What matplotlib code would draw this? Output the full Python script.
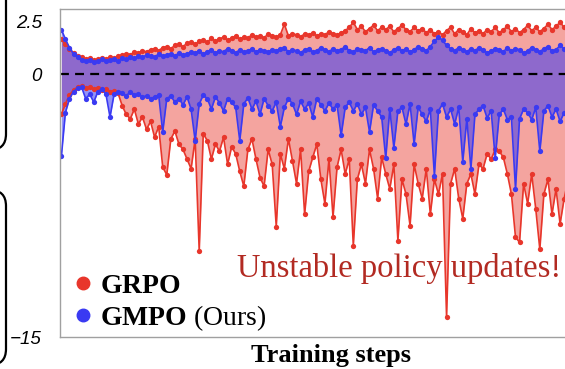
import numpy as np
import matplotlib
matplotlib.use("Agg")
import matplotlib.pyplot as plt
from matplotlib.lines import Line2D
from matplotlib.patches import FancyBboxPatch

# one sample every 3 training steps
step = 3
grpo_max = [1.65, 1.4, 1.2, 1.0, 0.85, 0.8, 0.7, 0.75, 0.65, 0.7, 0.75, 0.7, 0.8, 0.75, 0.85,
            0.9, 0.95, 0.9, 1.05, 1.0, 1.1, 1.05, 1.15, 1.2, 1.1, 1.25,
            1.3, 1.2, 1.35, 1.4, 1.3, 1.45, 1.5, 1.4, 1.55,
            1.6, 1.5, 1.7, 1.55, 1.65, 1.75, 1.6, 1.7, 1.8, 1.65, 1.75,
            1.7, 1.85, 1.75, 1.8, 1.7, 1.9, 1.8, 1.75, 1.85, 2.35, 1.8, 1.9, 1.85, 1.75, 1.9,
            1.85, 1.95, 1.8, 1.9, 1.85, 2.0, 1.9, 1.85, 1.95, 2.05, 2.2, 2.45,
            2.1, 2.25, 2.0, 2.15, 2.3, 2.05, 2.2, 2.1, 2.25, 2.0, 2.15, 2.3, 2.1, 2.0, 2.2, 2.05, 2.15, 1.95,
            2.1, 1.9, 2.0, 1.85, 2.05, 2.2, 1.9, 2.1, 2.0, 1.85, 2.15, 1.95, 2.05, 1.9, 2.1,
            2.0, 2.2, 1.95, 2.1, 2.25, 2.0, 2.15, 1.95, 2.1, 2.3, 2.05, 2.2, 2.0, 2.15, 2.35, 2.1,
            2.25, 2.45, 2.2, 2.3, 2.15, 2.35]
grpo_min = [-2.3, -1.7, -1.2, -0.9, -0.75, -0.7, -0.8, -0.75, -0.85, -0.8, -0.9, -0.85, -1.0, -0.95, -1.1,
            -1.8, -2.3, -2.55, -2.0, -2.85, -2.45, -3.15, -2.7, -3.6, -3.0, -5.3, -5.75, -3.7, -3.25, -4.0,
            -4.3, -4.85, -5.4, -3.7, -10.1,
            -3.4, -3.8, -4.85, -4.0, -4.4, -3.6, -5.15, -4.15, -4.55, -5.55, -6.4, -4.3, -3.7, -4.85, -5.9,
            -6.4, -4.3, -5.15, -8.7, -4.55,
            -5.4, -3.7, -4.95, -6.25, -4.3, -8.0, -5.55, -4.75, -4.0, -6.0, -7.4, -4.85, -8.15, -5.3, -4.3,
            -5.7, -4.85, -9.8, -6.0, -5.15,
            -6.25, -4.3, -5.4, -7.1, -4.75, -5.7, -6.55, -5.15, -9.5, -6.0, -6.85, -8.65, -5.15, -6.25, -7.1,
            -5.4, -8.0, -6.0, -6.85, -5.7,
            -13.85, -6.25, -5.4, -7.1, -8.25, -6.25, -5.7, -6.85, -5.15, -5.4, -4.55, -4.85, -4.3, -4.4, -4.75,
            -5.7, -6.85, -9.3, -9.6, -6.25,
            -7.4, -5.7, -7.7, -10.0, -6.85, -6.0, -8.0, -6.55, -8.55, -7.1, -6.0, -7.5, -6.5]
gmpo_max = [2.1, 1.65, 1.25, 0.95, 0.8, 0.65, 0.6, 0.65, 0.55, 0.6, 0.7, 0.6, 0.65, 0.7, 0.6,
            0.75, 0.7, 0.8, 0.75, 0.85, 0.8, 0.9, 0.85, 0.8, 0.95, 0.85, 0.9, 0.95, 0.85, 1.0, 0.9,
            0.95, 1.05, 1.0, 1.1, 0.95, 1.05, 1.15, 1.0, 1.1, 1.05, 1.2, 1.1, 1.0, 1.15, 1.05, 1.1, 1.2,
            1.05, 1.15, 1.1,
            1.05, 1.15, 1.1, 1.2, 1.25, 1.05, 1.15, 1.1, 1.0, 1.15, 1.2, 1.05, 1.1, 1.25, 1.15, 1.05, 1.2,
            1.1, 1.15, 1.3, 1.1, 1.05, 1.2, 1.15, 1.1, 1.25, 1.05, 1.15, 1.2, 1.1, 1.0, 1.15, 1.25, 1.1,
            1.2, 1.05, 1.15, 1.3, 1.2, 1.1,
            1.3, 1.55, 1.75, 1.6, 1.35,
            1.2, 1.1, 1.25, 1.15, 1.05, 1.2, 1.1, 1.25, 1.15, 1.0, 1.1, 1.2, 1.15, 1.05, 1.25, 1.1, 1.2,
            1.15, 1.0, 1.1, 1.25, 1.15, 1.05, 1.2, 1.3, 1.1, 1.15, 1.35, 1.2, 1.1, 1.25, 1.15]
gmpo_min = [-4.7, -2.2, -1.4, -1.0, -0.8, -0.75, -1.4, -1.15, -1.6, -1.0, -0.85, -1.15, -2.45, -1.15, -1.0,
            -1.1, -1.25, -1.0, -1.2, -1.15, -1.3, -1.25, -1.4, -1.3, -1.2, -3.3, -1.4, -1.25, -1.6, -1.4,
            -1.75, -1.3, -2.0, -3.8, -1.7, -1.2, -1.4, -2.0, -1.3, -1.65, -2.1, -1.4, -1.6, -1.9, -3.8,
            -1.7, -1.35, -2.0, -1.55, -2.3,
            -1.4, -1.8, -2.1, -1.6, -3.0, -1.9, -1.4, -1.7, -2.3, -1.55, -2.0, -1.65, -2.45, -1.4, -1.75,
            -2.1, -1.65, -2.0, -1.75, -3.5, -1.9, -1.6, -2.1, -1.7, -2.3, -1.9, -3.3, -1.75, -2.1, -2.45,
            -4.8, -2.0, -4.2, -2.1, -1.9, -2.85, -1.7, -4.0, -1.9, -2.3, -2.7, -2.0, -5.8, -2.1, -1.7,
            -2.45, -2.0, -2.85, -1.9, -5.0,
            -2.55, -5.4, -2.3, -2.0, -1.8, -2.5, -2.1, -4.8, -2.3, -2.0, -2.6, -2.45, -6.55, -2.55, -2.0,
            -2.2, -2.6, -1.9, -4.4, -2.1, -1.8, -2.45, -2.0, -2.7, -2.2, -2.5, -1.9, -2.3]

y_ticks = [2.5, 0, -15]
y_tick_labels = ["2.5", "0", "\u221215"]

RED = "#e8362b"
BLUE = "#3a3af2"
POS_STRETCH = 1.21  # positive half of the axis is drawn a bit taller


def fwd(y):
    y = np.asarray(y, dtype=float)
    return np.where(y > 0, y * POS_STRETCH, y)


def inv(y):
    y = np.asarray(y, dtype=float)
    return np.where(y > 0, y / POS_STRETCH, y)


plt.rcParams["mathtext.fontset"] = "custom"
plt.rcParams["mathtext.rm"] = "Liberation Serif"
plt.rcParams["mathtext.bf"] = "Liberation Serif:bold"

W, H = 565, 369
fig = plt.figure(figsize=(W / 100, H / 100), dpi=100)

# pieces of the neighbouring panels at the left edge
ax0 = fig.add_axes([0, 0, 1, 1])
ax0.set_xlim(0, W)
ax0.set_ylim(H, 0)
ax0.axis("off")
for y0, y1 in [(-60, 150), (190, 365)]:
    ax0.add_patch(FancyBboxPatch((-300, y0), 306, y1 - y0,
                                 boxstyle="round,pad=0,rounding_size=16",
                                 fc="none", ec="black", lw=1.6))

ax = fig.add_axes([60 / W, 32 / H, 542 / W, 328 / H])
x = np.arange(len(grpo_max)) * step

ax.fill_between(x, grpo_min, grpo_max, color=RED, alpha=0.45, lw=0)
ax.fill_between(x, gmpo_min, gmpo_max, color=BLUE, alpha=0.55, lw=0)
for lo, hi, c in [(grpo_min, grpo_max, RED), (gmpo_min, gmpo_max, BLUE)]:
    for s in (lo, hi):
        ax.plot(x, s, color=c, lw=1.2, marker="o", ms=3.8, mec=c, mew=0)
ax.axhline(0, color="black", lw=1.6, ls=(0, (4, 2.8)))

ax.set_yscale("function", functions=(fwd, inv))
ax.set_ylim(-15, 3.07)
ax.set_xlim(-1, 400)
ax.set_yticks(y_ticks)
ax.set_yticklabels(y_tick_labels, fontstyle="italic", family="Liberation Sans", fontsize=13.5)
ax.tick_params(axis="y", length=0, pad=13)
ax.set_xticks([])
for side in ["top", "bottom", "left", "right"]:
    ax.spines[side].set_color("#a0a0a0")
    ax.spines[side].set_linewidth(1.0)

handles = [Line2D([], [], ls="none", marker="o", ms=9, color=RED),
           Line2D([], [], ls="none", marker="o", ms=9, color=BLUE)]
ax.legend(handles, [r"$\mathbf{GRPO}$", r"$\mathbf{GMPO}$ (Ours)"],
          loc="lower left", bbox_to_anchor=(76 / W, 1 - 333 / H), bbox_transform=fig.transFigure,
          frameon=False, prop={"family": "Liberation Serif", "size": 20},
          handlelength=0.5, handletextpad=0.35, labelspacing=0.15, borderpad=0, borderaxespad=0)

ax.annotate("Unstable policy updates!", xy=(237 / W, 1 - 277 / H), xycoords="figure fraction",
            ha="left", va="baseline", color="#b22a22", family="Liberation Serif", fontsize=23.5)

fig.text(331 / W, 1 - 362 / H, "Training steps", ha="center", va="baseline",
         family="Liberation Serif", fontweight="bold", fontsize=19)

fig.savefig("out.png", dpi=100)
